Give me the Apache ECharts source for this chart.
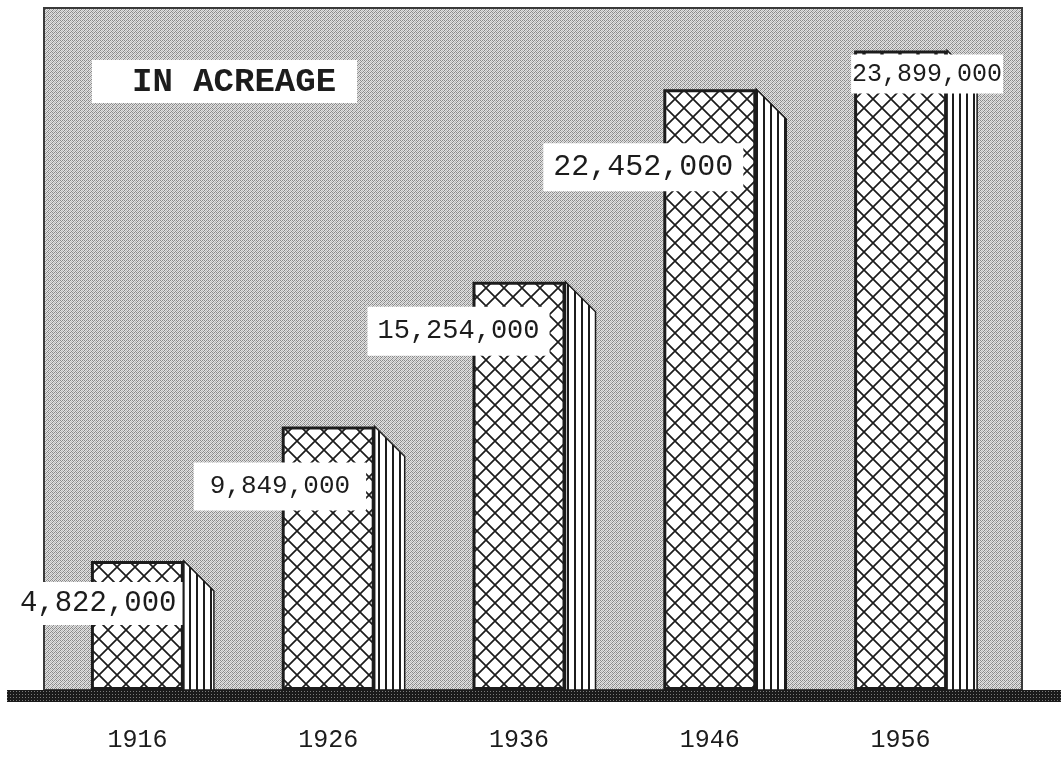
<!DOCTYPE html>
<html><head><meta charset="utf-8">
<script src="https://cdn.jsdelivr.net/npm/echarts@6/dist/echarts.min.js"></script>
<style>html,body{margin:0;padding:0;background:#fff}#c{width:1061px;height:766px}</style>
</head><body><div id="c"></div>
<script>
// ---- data ----
const years = ['1916', '1926', '1936', '1946', '1956'];
const acreage = [4822000, 9849000, 15254000, 22452000, 23899000];
const titleText = 'IN ACREAGE';

// ---- label box styling (not data) ----
const labelBoxes = [
  { dx: -77,  dy: 21, fs: 29, px: 6,  py: 7 },
  { dx: -88,  dy: 36, fs: 26, px: 16, py: 11 },
  { dx: -105, dy: 25, fs: 27, px: 10, py: 11 },
  { dx: -120, dy: 54, fs: 30, px: 10, py: 9 },
  { dx: -3,   dy: 4,  fs: 25, px: 1,  py: 7 }
];

function fmt(v) { return String(v).replace(/\B(?=(\d{3})+(?!\d))/g, ','); }

function tile(w, h, draw) {
  const c = document.createElement('canvas'); c.width = w; c.height = h;
  const g = c.getContext('2d'); draw(g, w, h); return c;
}
const hatch = tile(18, 18, (g, w, h) => {
  g.fillStyle = '#ffffff'; g.fillRect(0, 0, w, h);
  g.strokeStyle = '#1c1c1c'; g.lineWidth = 1.7; g.beginPath();
  for (const o of [-w, 0, w]) {
    g.moveTo(o, 0); g.lineTo(o + w, h);
    g.moveTo(o + w, 0); g.lineTo(o, h);
  }
  g.stroke();
});
const stripes = tile(7, 4, (g, w, h) => {
  g.fillStyle = '#ffffff'; g.fillRect(0, 0, w, h);
  g.fillStyle = '#1c1c1c'; g.fillRect(0, 0, 2, h);
});
const stipple = tile(4, 4, (g, w, h) => {
  const L = '#e2e2e2', D = '#8a8a8a', M = '#b8b8b8';
  const map = [[D, L, D, L], [L, D, L, M], [D, L, M, L], [L, M, L, D]];
  for (let y = 0; y < 4; y++) for (let x = 0; x < 4; x++) { g.fillStyle = map[y][x]; g.fillRect(x, y, 1, 1); }
});
const groundTex = tile(3, 3, (g, w, h) => {
  g.fillStyle = '#1a1a1a'; g.fillRect(0, 0, w, h);
  g.fillStyle = '#7a7a7a'; g.fillRect(1, 1, 1, 1);
});

const BAR_W = 93, SIDE = 30;

const chart = echarts.init(document.getElementById('c'), null, { renderer: 'canvas' });
chart.setOption({
  backgroundColor: '#ffffff',
  animation: false,
  title: {
    text: titleText, left: 92, top: 60,
    backgroundColor: '#ffffff', padding: [5, 21, 4, 40],
    textStyle: { fontFamily: 'Liberation Mono', fontWeight: 'bold', fontSize: 34, lineHeight: 34, color: '#1c1c1c' }
  },
  grid: { left: 42, right: 65, top: 21, bottom: 76, outerBoundsMode: 'none' },
  xAxis: {
    type: 'category', data: years,
    axisLine: { show: false }, axisTick: { show: false },
    axisLabel: { margin: 38, fontFamily: 'Liberation Mono', fontSize: 25, color: '#1c1c1c' }
  },
  yAxis: { type: 'value', min: 0, max: 25000000, show: false, splitLine: { show: false } },
  graphic: [
    { type: 'rect', z: -10, shape: { x: 44, y: 8, width: 978, height: 682 },
      style: { fill: { image: stipple, repeat: 'repeat' }, stroke: '#3a3a3a', lineWidth: 2 } },
    { type: 'rect', z: 50, shape: { x: 7, y: 690, width: 1054, height: 12 },
      style: { fill: { image: groundTex, repeat: 'repeat' } } }
  ],
  series: [
    {
      type: 'custom', z: 1,
      data: acreage.map((v, i) => [i, v]),
      renderItem: (params, api) => {
        const top = api.coord([api.value(0), api.value(1)]);
        const base = api.coord([api.value(0), 0]);
        const x0 = top[0] + BAR_W / 2;
        return {
          type: 'polygon',
          shape: { points: [[x0, top[1]], [x0 + SIDE, top[1] + SIDE], [x0 + SIDE, base[1]], [x0, base[1]]] },
          style: { fill: { image: stripes, repeat: 'repeat' }, stroke: '#1c1c1c', lineWidth: 1.5 }
        };
      }
    },
    {
      type: 'bar', z: 3, barWidth: BAR_W,
      itemStyle: { color: { image: hatch, repeat: 'repeat' }, borderColor: '#1c1c1c', borderWidth: 3 },
      data: acreage.map((v, i) => ({
        value: v,
        label: {
          show: true, position: [labelBoxes[i].dx, labelBoxes[i].dy],
          formatter: p => fmt(p.value),
          backgroundColor: '#ffffff',
          padding: [labelBoxes[i].py, labelBoxes[i].px],
          fontFamily: 'Liberation Mono', fontSize: labelBoxes[i].fs, lineHeight: labelBoxes[i].fs,
          color: '#1c1c1c'
        }
      }))
    }
  ]
});
</script>
</body></html>
